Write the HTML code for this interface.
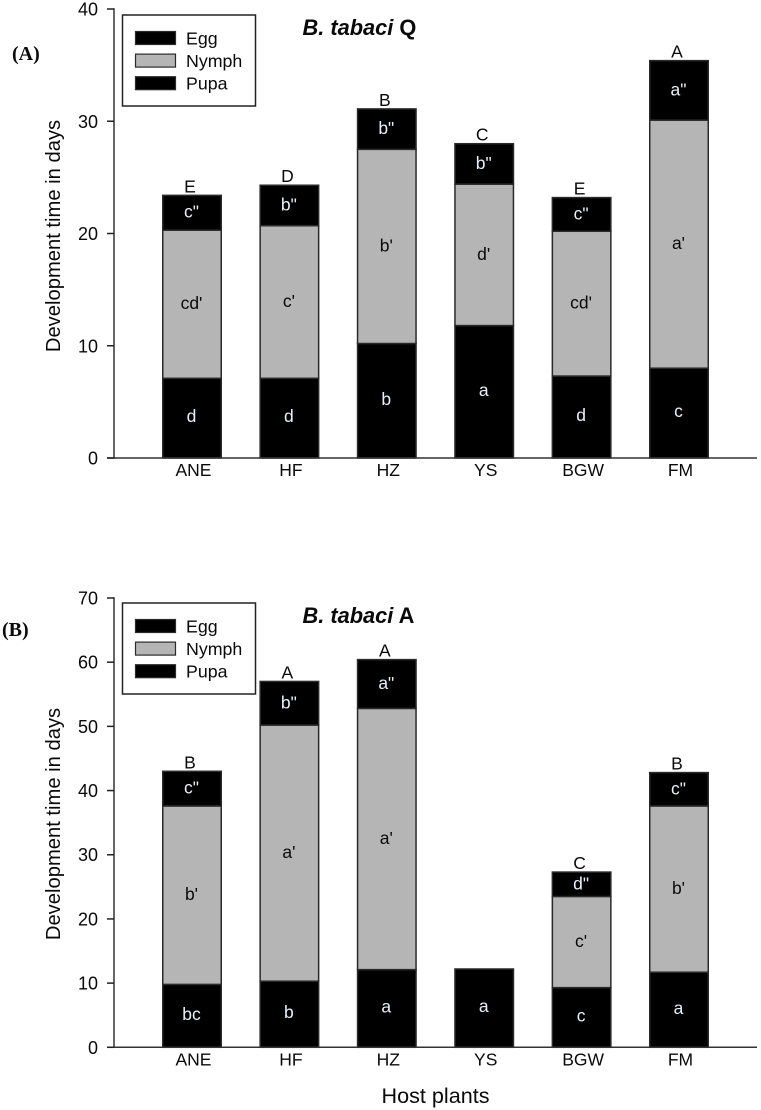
<!DOCTYPE html>
<html>
<head>
<meta charset="utf-8">
<style>
html,body{margin:0;padding:0;background:#fff;width:761px;height:1110px;overflow:hidden}
svg{display:block}
text{font-family:"Liberation Sans",Arial,sans-serif;fill:#0a0a0a}
</style>
</head>
<body>
<svg id="figure" xmlns="http://www.w3.org/2000/svg" width="761" height="1110" viewBox="0 0 761 1110"></svg>
<script>
// Shared categories and stages
const categories = ['ANE', 'HF', 'HZ', 'YS', 'BGW', 'FM'];
const stages = ['Egg', 'Nymph', 'Pupa'];

// Panel A values (days per stage)
const eggA = [7.1, 7.1, 10.2, 11.8, 7.3, 8.0];
const nymphA = [13.2, 13.6, 17.3, 12.6, 12.9, 22.1];
const pupaA = [3.1, 3.6, 3.6, 3.6, 3.0, 5.3];
const eggLabelsA = ['d', 'd', 'b', 'a', 'd', 'c'];
const nymphLabelsA = ["cd'", "c'", "b'", "d'", "cd'", "a'"];
const pupaLabelsA = ['c"', 'b"', 'b"', 'b"', 'c"', 'a"'];
const totalLabelsA = ['E', 'D', 'B', 'C', 'E', 'A'];
const ticksA = [0, 10, 20, 30, 40];

// Panel B values (days per stage)
const eggB = [9.8, 10.3, 12.1, 12.2, 9.3, 11.7];
const nymphB = [27.8, 39.9, 40.7, 0, 14.2, 25.9];
const pupaB = [5.4, 6.8, 7.6, 0, 3.8, 5.2];
const eggLabelsB = ['bc', 'b', 'a', 'a', 'c', 'a'];
const nymphLabelsB = ["b'", "a'", "a'", '', "c'", "b'"];
const pupaLabelsB = ['c"', 'b"', 'a"', '', 'd"', 'c"'];
const totalLabelsB = ['B', 'A', 'A', '', 'C', 'B'];
const ticksB = [0, 10, 20, 30, 40, 50, 60, 70];

const NS = 'http://www.w3.org/2000/svg';
const root = document.getElementById('figure');

function node(parent, tag, attrs, content) {
  const el = document.createElementNS(NS, tag);
  for (const k in attrs) el.setAttribute(k, attrs[k]);
  if (content !== undefined) el.textContent = content;
  
  parent.appendChild(el);
  return el;
}

function drawPanel(p) {
  const g = node(root, 'g', {});
  

  const yScale = v => p.y0 - (v / p.yMax) * (p.y0 - p.yTop);
  const xLeft = i => 162 + i * 97.4;
  const barW = 60;
  const xMid = i => xLeft(i) + barW / 2;

  // Bars
  categories.forEach((c, i) => {
    const series = [
      { name: 'egg', v: p.egg[i], fill: '#000', label: p.eggLabels[i], color: '#e8f0f6', dy: 4 },
      { name: 'nymph', v: p.nymph[i], fill: '#b5b5b5', label: p.nymphLabels[i], color: '#0a0a0a', dy: 5 },
      { name: 'pupa', v: p.pupa[i], fill: '#000', label: p.pupaLabels[i], color: '#e8f0f6', dy: 5 }
    ];
    let base = 0;
    series.forEach(s => {
      if (s.v <= 0) return;
      const top = base + s.v;
      const yT = yScale(top);
      const yB = yScale(base);
      const r = node(g, 'rect', {
        x: xLeft(i) + 0.75, y: yT, width: barW - 1.5, height: yB - yT,
        fill: s.fill, stroke: '#2a2a2a', 'stroke-width': 1.5
      });
      
      const t = node(g, 'text', {
        x: xMid(i) - 0.5, y: (yT + yB) / 2 + s.dy, 'text-anchor': 'middle', 'font-size': 17.5,
        style: 'fill:' + s.color
      }, s.label);
      
      base = top;
    });
    if (p.totalLabels[i]) {
      const tl = node(g, 'text', {
        x: xMid(i) - 2, y: yScale(base) - 3, 'text-anchor': 'middle', 'font-size': 17.5
      }, p.totalLabels[i]);
      
    }
    const cat = node(g, 'text', {
      x: xMid(i) + 1.5, y: p.y0 + 18, 'text-anchor': 'middle', 'font-size': 17.5
    }, c);
    
  });

  // Axes
  const ya = node(g, 'line', { x1: 114, x2: 114, y1: p.yTop - 0.75, y2: p.y0 + 0.75, stroke: '#333', 'stroke-width': 1.5 });
  
  const xa = node(g, 'line', { x1: 107, x2: 757, y1: p.y0, y2: p.y0, stroke: '#333', 'stroke-width': 1.5 });
  
  p.ticks.forEach(v => {
    const y = yScale(v);
    const tk = node(g, 'line', { x1: 107, x2: 114, y1: y, y2: y, stroke: '#222', 'stroke-width': 1.5 });
    
    const tl = node(g, 'text', { x: 98, y: y + 6.5, 'text-anchor': 'end', 'font-size': 18 }, String(v));
    
  });

  // Y title
  const yt = node(g, 'text', {
    x: 0, y: 0, 'text-anchor': 'middle', 'font-size': 20.2,
    transform: 'translate(60,' + p.yTitleY + ') rotate(-90)'
  }, 'Development time in days');
  

  // Legend
  const lg = node(g, 'g', {});
  
  const box = node(lg, 'rect', { x: 122.5, y: p.legendY, width: 133, height: 91, fill: '#fff', stroke: '#222', 'stroke-width': 1.5 });
  
  stages.forEach((s, k) => {
    const sy = p.legendY + 16.5 + k * 22.6;
    const sw = node(lg, 'rect', { x: 135.5, y: sy, width: 40, height: 13, fill: k === 1 ? '#b5b5b5' : '#000', stroke: '#2a2a2a', 'stroke-width': 1.2 });
    
    const lt = node(lg, 'text', { x: 186, y: sy + 13, 'font-size': 17.8 }, s);
    
  });

  // Title
  const title = node(g, 'text', { x: 302.5, y: p.titleY, 'font-size': 21.8, 'font-weight': 'bold' });
  
  const em = node(title, 'tspan', { 'font-style': 'italic' }, 'B. tabaci');
  
  const sub = node(title, 'tspan', {}, ' ' + p.id.toUpperCase());
  

  // Panel letter
  const letter = node(g, 'text', {
    x: p.letterX, y: p.letterY, 'font-size': 20, 'font-weight': 'bold',
    style: 'font-family:"Liberation Serif",serif'
  }, p.letter);
  
}

drawPanel({
  id: 'q', letter: '(A)', y0: 458, yTop: 9, yMax: 40, ticks: ticksA,
  egg: eggA, nymph: nymphA, pupa: pupaA,
  eggLabels: eggLabelsA, nymphLabels: nymphLabelsA, pupaLabels: pupaLabelsA, totalLabels: totalLabelsA,
  yTitleY: 236, legendY: 15, titleY: 35, letterX: 12, letterY: 60
});
drawPanel({
  id: 'a', letter: '(B)', y0: 1047.3, yTop: 598, yMax: 70, ticks: ticksB,
  egg: eggB, nymph: nymphB, pupa: pupaB,
  eggLabels: eggLabelsB, nymphLabels: nymphLabelsB, pupaLabels: pupaLabelsB, totalLabels: totalLabelsB,
  yTitleY: 824, legendY: 603, titleY: 623, letterX: 2, letterY: 636
});

const xTitle = node(root, 'text', { x: 435.5, y: 1103, 'text-anchor': 'middle', 'font-size': 21.6 }, 'Host plants');

</script>
</body>
</html>
